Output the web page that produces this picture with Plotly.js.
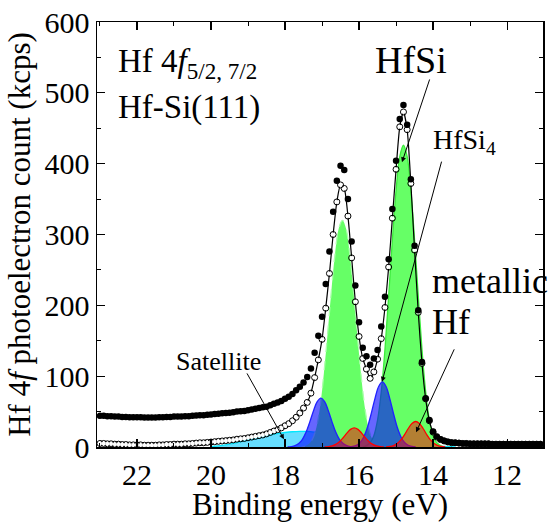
<!DOCTYPE html>
<html>
<head>
<meta charset="utf-8">
<script src="https://cdn.plot.ly/plotly-3.0.1.min.js"></script>
<style>html,body{margin:0;padding:0;background:#fff;}#plot{width:555px;height:522px;}</style>
</head>
<body>
<div id="plot"></div>
<script>
// Binding energy grid (eV)
const energy = [23.0,22.9,22.8,22.7,22.6,22.5,22.4,22.3,22.2,22.1,
22.0,21.9,21.8,21.7,21.6,21.5,21.4,21.3,21.2,21.1,
21.0,20.9,20.8,20.7,20.6,20.5,20.4,20.3,20.2,20.1,
20.0,19.9,19.8,19.7,19.6,19.5,19.4,19.3,19.2,19.1,
19.0,18.9,18.8,18.7,18.6,18.5,18.4,18.3,18.2,18.1,
18.0,17.9,17.8,17.7,17.6,17.5,17.4,17.3,17.2,17.1,
17.0,16.9,16.8,16.7,16.6,16.5,16.4,16.3,16.2,16.1,
16.0,15.9,15.8,15.7,15.6,15.5,15.4,15.3,15.2,15.1,
15.0,14.9,14.8,14.7,14.6,14.5,14.4,14.3,14.2,14.1,
14.0,13.9,13.8,13.7,13.6,13.5,13.4,13.3,13.2,13.1,
13.0,12.9,12.8,12.7,12.6,12.5,12.4,12.3,12.2,12.1,
12.0,11.9,11.8,11.7,11.6,11.5,11.4,11.3,11.2,11.1];

// Raw spectrum (filled dots), kcps
const rawCounts = [44,44,43.5,43.5,43,43,42.5,42.5,42,42,
42,42,41.5,41.5,41.5,41.5,42,42,42.5,42.5,
43,43,43,43.5,43.5,44,44.5,45,45,45.5,
46,46.5,47,47.5,48,48.5,49,50,50.5,51,
52,53,54,55,56,57,59,61,63,65,
68,71,75,80,85,91,99,111,133,157,
184,230,276,332,376,397,391,350,290,228,
176,140,128,116,125,137,170,212,265,336,
404,463,483,455,378,284,193,120,69,38,
22,15,11,9,7.5,6.5,6,5.5,5,5,
4.5,4.5,4.5,4.5,4.5,4.5,4,4,4,4,
4,4,4,4,4,4,4,4,4,4];

// Background-subtracted spectrum (open circles) with fit line, kcps
const subCounts = [5,5,4.5,4.5,4,4,3.5,3.5,3,3,
3,3,2.5,2.5,2.5,2.5,3,3,3.5,3.5,
4,4,4,4.5,4.5,5,5.5,6,6,6.5,
7,7.5,8,8.5,9,9.5,10,11,11.5,12,
13,14,15,16,17,18.5,20.5,22.5,24.5,27,
30,33,37,42,48,55,63,76,98,123,
152,196,245,300,346,370,365,326,267,205,
156,125,110,97,106,124,153,197,254,323,
392,452,473,448,372,278,190,118,68,37,
21,14,10.5,8.5,7,6,6,5.5,5,5,
4.5,4.5,4.5,4.5,4.5,4.5,4,4,4,4,
4,4,4,4,4,4,4,4,4,4];

// HfSi components (green)
const hfsi1E = [15.35,15.45,15.55,15.65,15.75,15.85,15.95,16.05,16.15,16.25,16.35,16.45,16.55,16.65,16.75,16.85,16.95,17.05,17.15,17.25,17.35,17.45,17.55];
const hfsi1Y = [0,1.5,4.5,12,28,58,104,160,219,272,308,320,308,272,219,160,104,58,28,12,4.5,1.5,0];
const hfsi2E = [13.7,13.8,13.9,14.0,14.1,14.2,14.3,14.4,14.5,14.6,14.7,14.8,14.9,15.0,15.1,15.2,15.3,15.4,15.5,15.6,15.7,15.8,15.9];
const hfsi2Y = [0,2,6,16,38,78,138,213,292,362,410,426,410,362,292,213,138,78,38,16,6,2,0];

// HfSi4 components (blue)
const hfsi4aE = [16.13,16.23,16.33,16.43,16.53,16.63,16.73,16.83,16.93,17.03,17.13,17.23,17.33,17.43,17.53,17.63,17.73,17.83,17.93];
const hfsi4aY = [0,0.6,1.9,4.8,10.9,21.1,35.5,51.3,64,69,64,51.3,35.5,21.1,10.9,4.8,1.9,0.6,0];
const hfsi4bE = [14.47,14.57,14.67,14.77,14.87,14.97,15.07,15.17,15.27,15.37,15.47,15.57,15.67,15.77,15.87,15.97,16.07,16.17,16.27];
const hfsi4bY = [0,0.8,2.5,6.4,14.5,28.2,47.3,68.4,85.5,92,85.5,68.4,47.3,28.2,14.5,6.4,2.5,0.8,0];

// Metallic Hf components (red)
const metAE = [15.33,15.43,15.53,15.63,15.73,15.83,15.93,16.03,16.13,16.23,16.33,16.43,16.53,16.63,16.73,16.83,16.93];
const metAY = [0,0.5,1.5,3.7,7.5,13.1,19.6,24.9,27,24.9,19.6,13.1,7.5,3.7,1.5,0.5,0];
const metBE = [13.67,13.77,13.87,13.97,14.07,14.17,14.27,14.37,14.47,14.57,14.67,14.77,14.87,14.97,15.07,15.17,15.27];
const metBY = [0,0.7,2,4.9,10,17.5,26.1,33.2,36,33.2,26.1,17.5,10,4.9,2,0.7,0];

// Satellite (cyan)
const satE = [20.0,19.8,19.6,19.4,19.2,19.0,18.8,18.6,18.4,18.2,18.0,17.8,17.6,17.4,17.2,17.0,16.8,16.6,16.4,16.2,16.0,15.8,15.6,15.4,15.2,15.0,14.8,14.6,14.4,14.2,14.0,13.8,13.6,13.4];
const satY = [0.5,1.5,3,5,7.5,10,12.5,15,17,19,20.5,21.5,22,22,21,19.5,17.5,15.5,13.5,11.5,10,8.5,7.5,6.5,5.5,4.5,3.5,3,2.5,2,1.5,1,0.5,0];

const xTicks = [22,20,18,16,14,12];

const FONT = '"Liberation Serif", "Times New Roman", Times, serif';

function comp(x, y, fill, line, dash) {
  return {x: x, y: y, type: 'scatter', mode: 'lines', fill: 'tozeroy',
    fillcolor: fill, line: {color: line, width: 1.3, shape: 'spline', dash: dash || 'solid'},
    hoverinfo: 'skip', showlegend: false};
}

const traces = [
  comp(satE, satY, 'rgba(0,200,255,0.6)', '#00e8ff'),
  comp(hfsi1E, hfsi1Y, 'rgb(102,255,102)', 'rgb(170,255,170)', 'dash'),
  comp(hfsi2E, hfsi2Y, 'rgb(102,255,102)', 'rgb(60,235,60)'),
  comp(hfsi4aE, hfsi4aY, 'rgba(0,0,255,0.6)', '#2020ff'),
  comp(hfsi4bE, hfsi4bY, 'rgba(0,0,255,0.6)', '#2020ff'),
  comp(metAE, metAY, 'rgba(255,0,0,0.5)', '#ff0000'),
  comp(metBE, metBY, 'rgba(255,0,0,0.5)', '#ff0000'),
  {x: energy, y: subCounts, type: 'scatter', mode: 'lines+markers',
    line: {color: 'black', width: 1.2, shape: 'spline', smoothing: 0.6},
    marker: {symbol: 'circle-open', size: 6, color: 'black', line: {width: 1, color: 'black'}},
    showlegend: false},
  {x: energy, y: subCounts, type: 'scatter', mode: 'markers',
    marker: {symbol: 'circle', size: 4, color: 'white'}, showlegend: false, hoverinfo: 'skip'},
  {x: energy, y: rawCounts, type: 'scatter', mode: 'markers',
    marker: {symbol: 'circle', size: 6.5, color: 'black'}, showlegend: false}
];

const arrowBase = {showarrow: true, arrowhead: 2, arrowsize: 1, arrowwidth: 1, arrowcolor: 'black',
  axref: 'x', ayref: 'y', xref: 'x', yref: 'y', text: '', standoff: 0, startstandoff: 0};

const annotations = [
  {xref: 'x', yref: 'y', x: 22.57, y: 542, xanchor: 'left', yanchor: 'middle', showarrow: false,
   text: 'Hf 4<i>f</i><sub>5/2, 7/2</sub>', font: {family: FONT, size: 33, color: 'black'}},
  {xref: 'x', yref: 'y', x: 22.57, y: 480, xanchor: 'left', yanchor: 'middle', showarrow: false,
   text: 'Hf-Si(111)', font: {family: FONT, size: 33, color: 'black'}},
  {xref: 'x', yref: 'y', x: 14.59, y: 546, xanchor: 'center', yanchor: 'middle', showarrow: false,
   text: 'HfSi', font: {family: FONT, size: 38, color: 'black'}},
  {xref: 'x', yref: 'y', x: 14.06, y: 432, xanchor: 'left', yanchor: 'middle', showarrow: false,
   text: 'HfSi<sub>4</sub>', font: {family: FONT, size: 28, color: 'black'}},
  {xref: 'x', yref: 'y', x: 14.08, y: 234, xanchor: 'left', yanchor: 'middle', showarrow: false,
   text: 'metallic', font: {family: FONT, size: 36, color: 'black'}},
  {xref: 'x', yref: 'y', x: 14.08, y: 176, xanchor: 'left', yanchor: 'middle', showarrow: false,
   text: 'Hf', font: {family: FONT, size: 36, color: 'black'}},
  {xref: 'x', yref: 'y', x: 19.81, y: 121, xanchor: 'center', yanchor: 'middle', showarrow: false,
   text: 'Satellite', font: {family: FONT, size: 26, color: 'black'}},
  Object.assign({}, arrowBase, {x: 14.84, y: 402, ax: 14.08, ay: 521}),
  Object.assign({}, arrowBase, {x: 15.38, y: 92, ax: 13.76, ay: 405}),
  Object.assign({}, arrowBase, {x: 14.46, y: 21, ax: 13.41, ay: 140}),
  Object.assign({}, arrowBase, {x: 18.03, y: 11, ax: 19.05, ay: 106})
];

const layout = {
  width: 555, height: 522,
  margin: {l: 97, r: 12, t: 22, b: 75},
  paper_bgcolor: 'white', plot_bgcolor: 'white',
  font: {family: FONT, color: 'black', size: 30},
  showlegend: false,
  xaxis: {
    range: [23.08, 11.03], tickvals: xTicks, ticktext: xTicks.map(String),
    ticks: 'inside', ticklen: 8, tickwidth: 1.2, tickcolor: 'black',
    minor: {dtick: 1, tick0: 0, ticks: 'inside', ticklen: 4, tickwidth: 1, tickcolor: 'black'},
    showline: true, linewidth: 1.5, linecolor: 'black', mirror: 'allticks',
    showgrid: false, zeroline: false,
    tickfont: {family: FONT, size: 30, color: 'black'},
    title: {text: 'Binding energy (eV)', font: {family: FONT, size: 31, color: 'black'}, standoff: 9}
  },
  yaxis: {
    range: [0, 600], dtick: 100, tick0: 0,
    ticks: 'inside', ticklen: 8, tickwidth: 1.2, tickcolor: 'black',
    minor: {dtick: 50, ticks: 'inside', ticklen: 4, tickwidth: 1, tickcolor: 'black'},
    showline: true, linewidth: 1.5, linecolor: 'black', mirror: 'allticks',
    showgrid: false, zeroline: false,
    tickfont: {family: FONT, size: 30, color: 'black'},
    title: {text: 'Hf 4<i>f</i> photoelectron count (kcps)', font: {family: FONT, size: 31, color: 'black'}, standoff: 4}
  },
  annotations: annotations
};

Plotly.newPlot('plot', traces, layout, {displayModeBar: false, staticPlot: true});
</script>
</body>
</html>
